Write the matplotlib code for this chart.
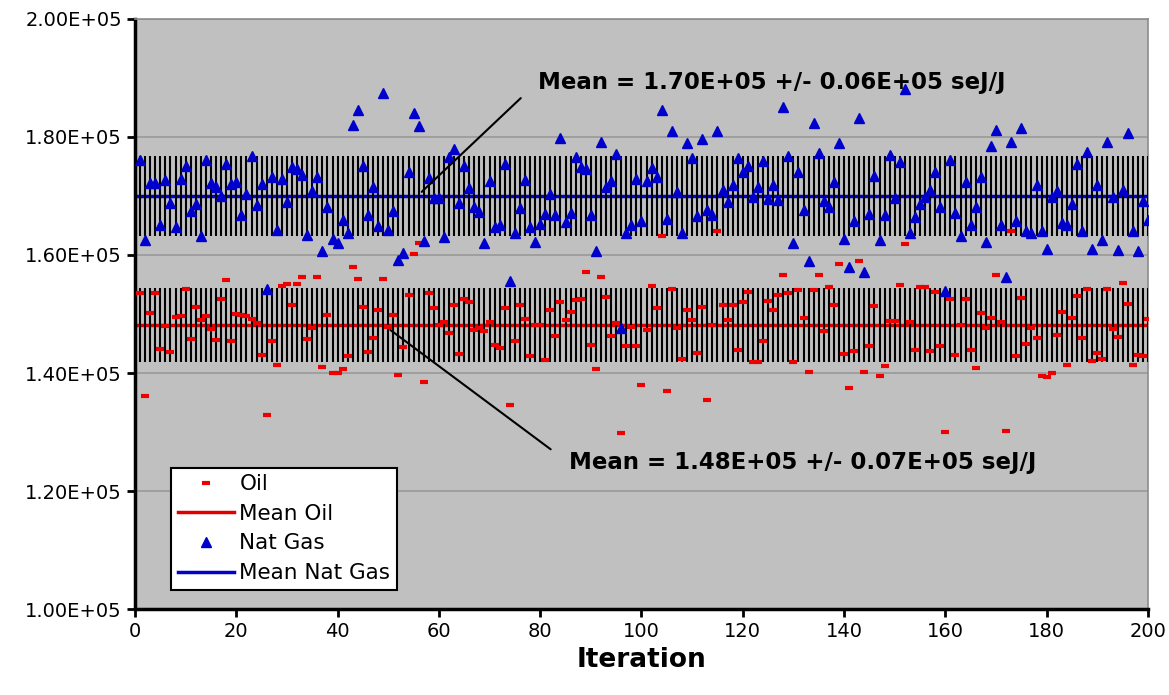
import numpy as np
import matplotlib.pyplot as plt
from matplotlib.ticker import FuncFormatter

# values, in units of 1E+05 seJ/J, iterations 1..200
oil = np.array([
    1.536, 1.361, 1.501, 1.536, 1.441, 1.480, 1.436, 1.495, 1.497, 1.543, 1.458, 1.512, 1.490, 1.496, 1.475, 1.456, 1.525,
    1.557, 1.455, 1.500, 1.498, 1.497, 1.492, 1.484, 1.431, 1.329, 1.455, 1.413, 1.548, 1.551, 1.516, 1.551, 1.562,
    1.457, 1.476, 1.563, 1.411, 1.498, 1.400, 1.400, 1.407, 1.429, 1.579, 1.559, 1.512, 1.435, 1.459, 1.507, 1.559, 1.478,
    1.498, 1.397, 1.444, 1.532, 1.601, 1.621, 1.385, 1.535, 1.510, 1.481, 1.487, 1.467, 1.516, 1.433, 1.525, 1.520, 1.473,
    1.476, 1.471, 1.487, 1.447, 1.443, 1.510, 1.345, 1.455, 1.515, 1.492, 1.429, 1.481, 1.482, 1.422, 1.506, 1.462, 1.521,
    1.490, 1.504, 1.524, 1.526, 1.572, 1.447, 1.406, 1.562, 1.529, 1.463, 1.484, 1.299, 1.446, 1.478, 1.446, 1.380, 1.473,
    1.547, 1.511, 1.632, 1.369, 1.543, 1.476, 1.424, 1.507, 1.490, 1.434, 1.512, 1.354, 1.481, 1.641, 1.515, 1.490, 1.515,
    1.439, 1.521, 1.537, 1.419, 1.419, 1.454, 1.522, 1.507, 1.532, 1.566, 1.536, 1.419, 1.540, 1.494, 1.402, 1.541, 1.566,
    1.472, 1.545, 1.516, 1.584, 1.432, 1.374, 1.437, 1.589, 1.402, 1.446, 1.514, 1.395, 1.412, 1.488, 1.488, 1.549, 1.619,
    1.487, 1.439, 1.546, 1.546, 1.438, 1.538, 1.446, 1.300, 1.525, 1.431, 1.481, 1.525, 1.439, 1.408, 1.502, 1.476,
    1.493, 1.566, 1.487, 1.302, 1.641, 1.429, 1.527, 1.450, 1.476, 1.459, 1.395, 1.393, 1.400, 1.464, 1.503, 1.414, 1.494,
    1.530, 1.460, 1.542, 1.420, 1.434, 1.424, 1.542, 1.475, 1.461, 1.553, 1.517, 1.414, 1.431, 1.428, 1.492]) * 1e5

gas = np.array([
    1.761, 1.625, 1.722, 1.722, 1.650, 1.727, 1.688, 1.648, 1.729, 1.751, 1.675, 1.686, 1.632, 1.761, 1.722, 1.715, 1.700,
    1.754, 1.720, 1.723, 1.667, 1.704, 1.767, 1.685, 1.721, 1.542, 1.733, 1.642, 1.729, 1.690, 1.749, 1.745, 1.735,
    1.634, 1.709, 1.732, 1.607, 1.682, 1.627, 1.620, 1.659, 1.638, 1.821, 1.845, 1.751, 1.668, 1.715, 1.649, 1.874, 1.642,
    1.674, 1.592, 1.603, 1.741, 1.840, 1.819, 1.623, 1.730, 1.696, 1.696, 1.630, 1.766, 1.780, 1.688, 1.751, 1.713, 1.681,
    1.673, 1.621, 1.726, 1.648, 1.650, 1.754, 1.556, 1.637, 1.679, 1.727, 1.648, 1.622, 1.653, 1.669, 1.703, 1.668, 1.799,
    1.656, 1.671, 1.766, 1.749, 1.745, 1.668, 1.606, 1.792, 1.716, 1.726, 1.771, 1.476, 1.637, 1.650, 1.728, 1.658, 1.726,
    1.747, 1.733, 1.846, 1.661, 1.810, 1.707, 1.637, 1.789, 1.764, 1.666, 1.797, 1.676, 1.668, 1.810, 1.710, 1.690, 1.719,
    1.764, 1.740, 1.751, 1.698, 1.716, 1.759, 1.695, 1.718, 1.693, 1.850, 1.768, 1.620, 1.740, 1.676, 1.590, 1.824, 1.773,
    1.692, 1.682, 1.723, 1.790, 1.627, 1.579, 1.658, 1.833, 1.571, 1.669, 1.734, 1.625, 1.667, 1.769, 1.696, 1.758, 1.881,
    1.638, 1.665, 1.686, 1.698, 1.710, 1.741, 1.681, 1.539, 1.761, 1.671, 1.633, 1.723, 1.651, 1.681, 1.732, 1.622, 1.784,
    1.812, 1.651, 1.562, 1.792, 1.658, 1.816, 1.640, 1.637, 1.719, 1.640, 1.610, 1.699, 1.709, 1.654, 1.650, 1.686, 1.755,
    1.640, 1.775, 1.610, 1.719, 1.625, 1.792, 1.698, 1.608, 1.710, 1.807, 1.640, 1.607, 1.691, 1.659]) * 1e5

oil_mean, oil_sd = 1.481e5, 0.063e5
gas_mean, gas_sd = 1.70e5, 0.068e5

gas_text = 'Mean = 1.70E+05 +/- 0.06E+05 seJ/J'
oil_text = 'Mean = 1.48E+05 +/- 0.07E+05 seJ/J'

xticks = np.arange(0, 201, 20)
yticks = np.arange(1.0e5, 2.01e5, 0.2e5)

it = np.arange(1, len(oil) + 1)

fig = plt.figure(figsize=(11.69, 6.95), dpi=100)
ax = fig.add_axes([0.1155, 0.1237, 0.8665, 0.849])
ax.set_facecolor('#c0c0c0')
ax.set_axisbelow(True)
ax.yaxis.grid(True, color='#959595', lw=1.1)

# mean lines with the +/- sd band drawn as error bars
ax.axhline(oil_mean, color='#e00000', lw=2.5, zorder=2, label='Mean Oil')
ax.axhline(gas_mean, color='#0000c8', lw=2.5, zorder=2, label='Mean Nat Gas')
ax.vlines(it, oil_mean - oil_sd, oil_mean + oil_sd, color='black', lw=1.5, zorder=3)
ax.vlines(it, gas_mean - gas_sd, gas_mean + gas_sd, color='black', lw=1.5, zorder=3)

ax.plot(it, oil, ls='none', marker='_', ms=6, mew=3, color='#ee0000', zorder=4, label='Oil')
ax.plot(it, gas, ls='none', marker='^', ms=6.5, color='#0000cc', zorder=4, label='Nat Gas')

arrow = dict(arrowstyle='-', color='black', lw=1.5, shrinkA=14, shrinkB=0, relpos=(0, 0.5))
ax.annotate(gas_text, xy=(56.6, 1.707e5), xytext=(79.5, 1.893e5), fontsize=16.5, fontweight='bold',
            ha='left', va='center', arrowprops=arrow, zorder=5)
ax.annotate(oil_text, xy=(50.4, 1.473e5), xytext=(85.7, 1.2475e5), fontsize=16.5, fontweight='bold',
            ha='left', va='center', arrowprops=arrow, zorder=5)

ax.set_xlim(0, 200)
ax.set_ylim(1.0e5, 2.0e5)
ax.set_xticks(xticks)
ax.set_yticks(yticks)
ax.yaxis.set_major_formatter(FuncFormatter(lambda v, p: '{:.2E}'.format(v)))
ax.tick_params(direction='out', length=6, width=2, labelsize=14, color='black')
ax.set_xlabel('Iteration', fontsize=19, fontweight='bold')

for s in ['left', 'bottom']:
    ax.spines[s].set_color('black')
    ax.spines[s].set_linewidth(2.5)
for s in ['top', 'right']:
    ax.spines[s].set_color('#8c8c8c')
    ax.spines[s].set_linewidth(1.2)

h, l = ax.get_legend_handles_labels()
order = [l.index(n) for n in ['Oil', 'Mean Oil', 'Nat Gas', 'Mean Nat Gas']]
leg = ax.legend([h[i] for i in order], [l[i] for i in order], loc='lower left',
                bbox_to_anchor=(0.036, 0.033), fontsize=15.5, fancybox=False, framealpha=1,
                edgecolor='black', handlelength=2.6, handletextpad=0.25, labelspacing=0.45,
                borderpad=0.3, borderaxespad=0)
leg.get_frame().set_linewidth(1.5)

fig.savefig('out.png', dpi=100)
